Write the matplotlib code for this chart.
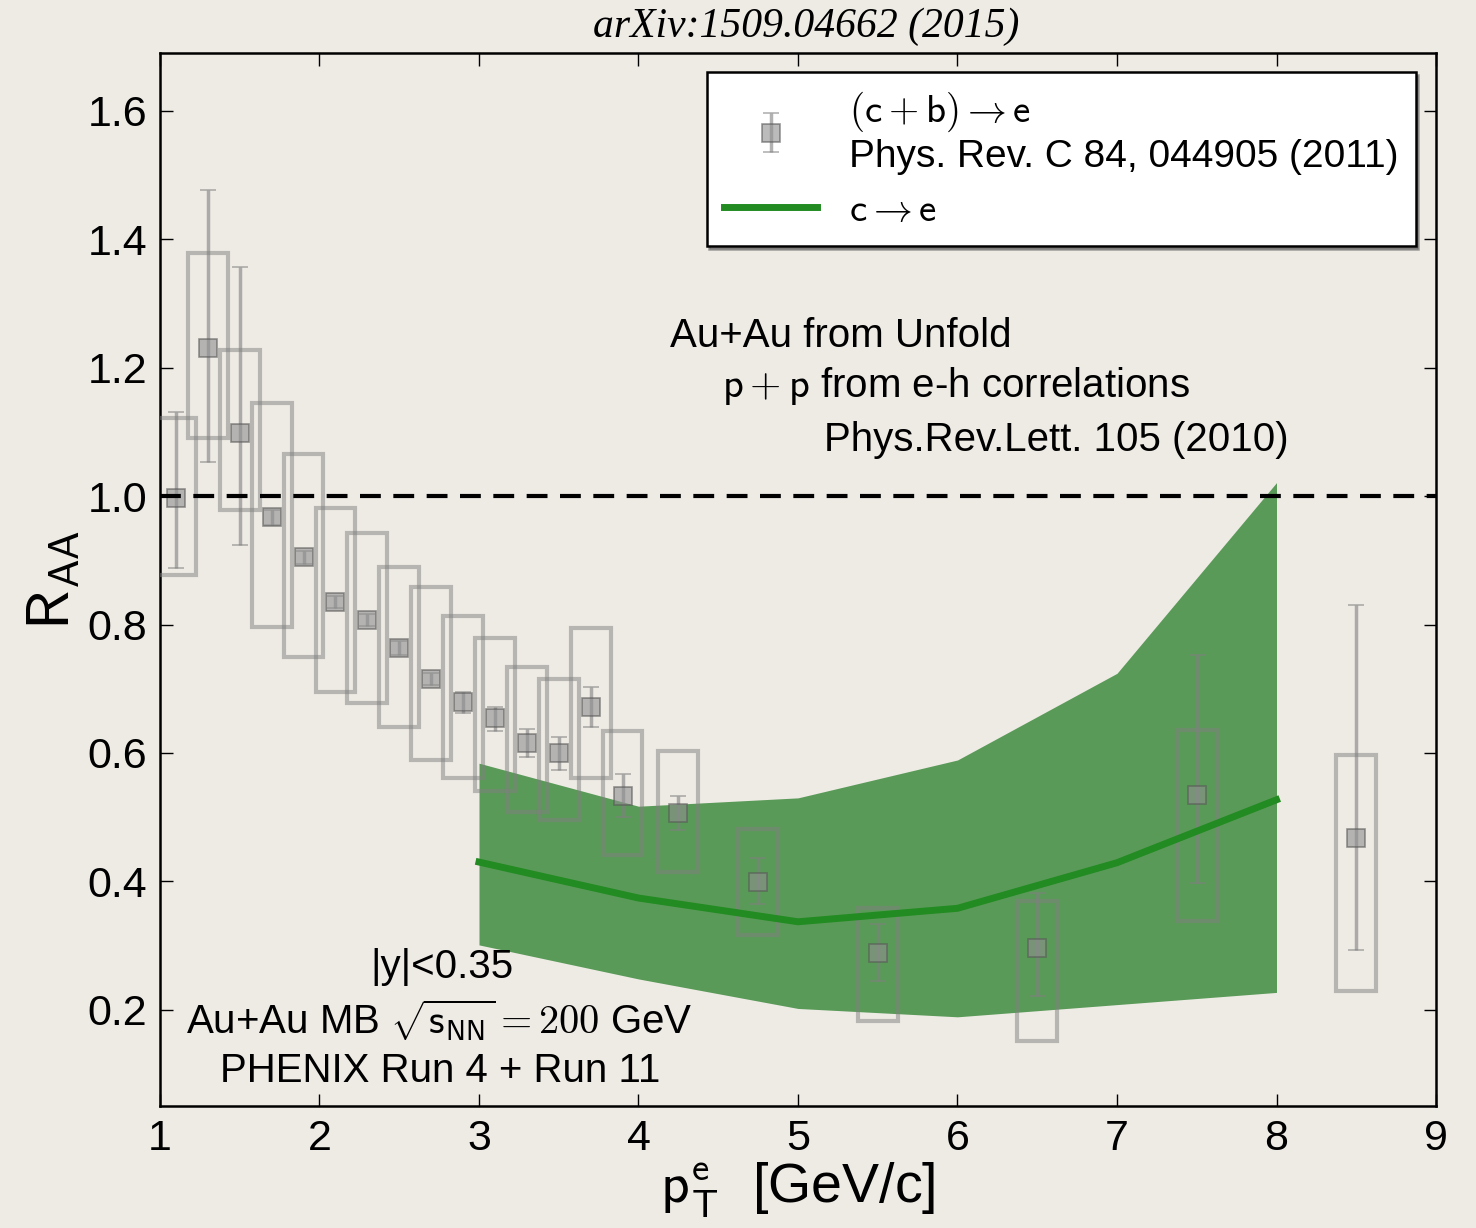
import numpy as np
import matplotlib.pyplot as plt
from matplotlib.patches import Rectangle

plt.rcParams['font.family'] = ['Liberation Sans', 'DejaVu Sans']
plt.rcParams['mathtext.fontset'] = 'cm'

# PHENIX (c+b)->e R_AA points
pt = [1.1, 1.3, 1.5, 1.7, 1.9, 2.1, 2.3, 2.5, 2.7, 2.9, 3.1, 3.3, 3.5, 3.7, 3.9,
      4.25, 4.75, 5.5, 6.5, 7.5, 8.5]
raa = [0.997, 1.230, 1.098, 0.967, 0.905, 0.835, 0.807, 0.763, 0.715, 0.679, 0.654,
       0.616, 0.600, 0.672, 0.533, 0.507, 0.399, 0.289, 0.296, 0.534, 0.467]
stat_lo = [0.888, 1.053, 0.924, 0.955, 0.895, 0.825, 0.797, 0.752, 0.705, 0.662, 0.634,
           0.594, 0.574, 0.640, 0.500, 0.480, 0.365, 0.244, 0.222, 0.398, 0.293]
stat_hi = [1.131, 1.476, 1.357, 0.978, 0.915, 0.845, 0.817, 0.774, 0.725, 0.695, 0.672,
           0.637, 0.625, 0.703, 0.567, 0.533, 0.437, 0.334, 0.382, 0.752, 0.830]
sys_lo = [0.877, 1.090, 0.978, 0.796, 0.749, 0.695, 0.678, 0.640, 0.589, 0.561, 0.541,
          0.508, 0.496, 0.561, 0.441, 0.415, 0.317, 0.183, 0.152, 0.338, 0.229]
sys_hi = [1.121, 1.378, 1.227, 1.145, 1.065, 0.981, 0.942, 0.890, 0.858, 0.813, 0.779,
          0.734, 0.715, 0.795, 0.634, 0.603, 0.482, 0.359, 0.369, 0.635, 0.596]

# c->e unfolded result
band_x = [3, 4, 5, 6, 7, 8]
band_lo = [0.301, 0.248, 0.202, 0.189, 0.208, 0.227]
band_hi = [0.584, 0.517, 0.530, 0.589, 0.724, 1.021]
band_mid = [0.430, 0.374, 0.337, 0.358, 0.429, 0.527]

bg = '#eeebe5'
fig = plt.figure(figsize=(14.76, 12.28), dpi=100, facecolor=bg)
ax = fig.add_axes([0.1084, 0.0993, 0.8645, 0.8575], facecolor=bg)

ax.fill_between(band_x, band_lo, band_hi, color='#5a9a58', lw=0, zorder=2)

raa_a = np.array(raa)
yerr = [raa_a - np.array(stat_lo), np.array(stat_hi) - raa_a]
hw = 0.125
for x, lo, hi in zip(pt, sys_lo, sys_hi):
    ax.add_patch(Rectangle((x - hw, lo), 2 * hw, hi - lo, fill=False,
                           ec='gray', lw=3, alpha=0.5, zorder=3))
eb = ax.errorbar(pt, raa, yerr=yerr, fmt='s', ms=13, mfc='#8f8f8f', mec='#555555',
                 mew=1.2, ecolor='gray', elinewidth=2.5, capsize=6, capthick=1.5,
                 alpha=0.6, zorder=4)
ln, = ax.plot(band_x, band_mid, color='#228b22', lw=5, zorder=5)

ax.axhline(1.0, color='black', lw=3, ls=(0, (5, 3)), zorder=6)

ax.set_xlim(1, 9)
ax.set_ylim(0.05, 1.69)
ax.set_xticks(range(1, 10))
ax.set_yticks([0.2, 0.4, 0.6, 0.8, 1.0, 1.2, 1.4, 1.6])
ax.tick_params(direction='in', length=9, width=1, labelsize=31, top=True, right=True, pad=9)
for s in ax.spines.values():
    s.set_linewidth(1.8)

ax.set_ylabel(r'$\mathsf{R_{AA}}$', fontsize=44, labelpad=4)
ax.set_xlabel(r'$\mathsf{p_T^e}$  [GeV/c]', fontsize=40, labelpad=2)

fig.text(0.546, 0.978, 'arXiv:1509.04662 (2015)', family='Liberation Serif',
         style='italic', fontsize=30, ha='center', va='center')

leg = ax.legend([eb, ln], ['$(\\mathsf{c}+\\mathsf{b})\\rightarrow\\mathsf{e}$\nPhys. Rev. C 84, 044905 (2011)',
                           '$\\mathsf{c}\\rightarrow\\mathsf{e}$'],
                loc='upper right', bbox_to_anchor=(0.984, 0.982), borderaxespad=0,
                fontsize=28, fancybox=False, shadow=True, framealpha=1,
                edgecolor='black', handlelength=2.4, labelspacing=0.45,
                borderpad=0.45)
leg.get_frame().set_linewidth(1.8)

tkw = dict(fontsize=29, ha='left', va='center')
ax.text(4.197, 1.25, 'Au+Au from Unfold', **tkw)
ax.text(4.524, 1.171, r'$\mathsf{p}+\mathsf{p}$ from e-h correlations', **tkw)
ax.text(5.163, 1.087, 'Phys.Rev.Lett. 105 (2010)', **tkw)
ax.text(2.317, 0.267, '|y|<0.35', **tkw)
ax.text(1.163, 0.184, r'Au+Au MB $\sqrt{\mathsf{s_{NN}}}=200$ GeV', **tkw)
ax.text(1.376, 0.104, 'PHENIX Run 4 + Run 11', **tkw)

fig.savefig('out.png', dpi=100, facecolor=bg)
